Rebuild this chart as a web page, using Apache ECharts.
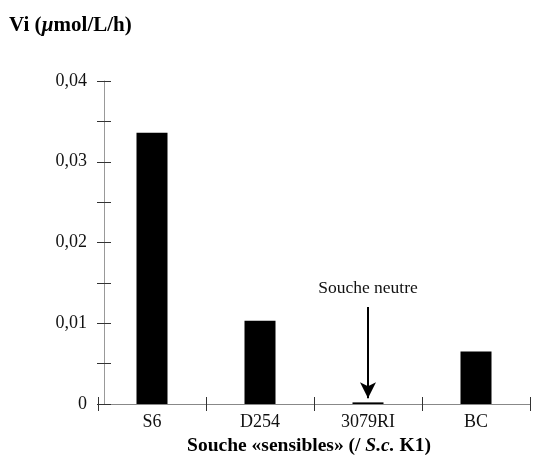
<!DOCTYPE html>
<html>
<head>
<meta charset="utf-8">
<script src="https://cdn.jsdelivr.net/npm/echarts@6/dist/echarts.min.js"></script>
<style>
  html, body { margin: 0; padding: 0; background: #fff; }
  #chart { width: 536px; height: 473px; }
</style>
</head>
<body>
<div id="chart"></div>
<script>
const categories = ['S6', 'D254', '3079RI', 'BC']
const rates = [0.0336, 0.0103, 0.0002, 0.0065]
const yTickValues = [0, 0.01, 0.02, 0.03, 0.04]
const yTickLabels = ['0', '0,01', '0,02', '0,03', '0,04']
const neutralStrain = '3079RI'
const arrowFrom = 0.012
const arrowTo = 0.0007
const neutralLabel = 'Souche neutre'

const serif = "'Liberation Serif', 'Times New Roman', serif"

function yLabel(value) {
  const i = yTickValues.findIndex((v) => Math.abs(v - value) < 1e-9)
  return i >= 0 ? yTickLabels[i] : ''
}

const chart = echarts.init(document.getElementById('chart'), null, { renderer: 'canvas' })

const tickStyle = { color: '#333', width: 1 }

chart.setOption({
  animation: false,
  backgroundColor: '#fff',
  textStyle: { fontFamily: serif },
  title: {
    left: 4,
    top: 10,
    text: '{b|Vi (}{i|\u00b5}{b|mol/L/h)}',
    textStyle: {
      rich: {
        b: { fontFamily: serif, fontWeight: 'bold', fontSize: 21, color: '#000' },
        i: { fontFamily: serif, fontWeight: 'bold', fontStyle: 'italic', fontSize: 21, color: '#000' },
      },
    },
  },
  grid: { left: 98, right: 6, top: 81, bottom: 69, containLabel: false },
  xAxis: [
    {
      type: 'category',
      data: categories,
      position: 'bottom',
      axisLine: { lineStyle: { color: '#888', width: 1 } },
      axisTick: {
        show: true,
        alignWithLabel: false,
        inside: false,
        length: 7,
        lineStyle: tickStyle,
      },
      axisLabel: { color: '#111', fontFamily: serif, fontSize: 18, margin: 9 },
      name: '{b|Souche \u00absensibles\u00bb (/ }{i|S.c.}{b| K1)}',
      nameLocation: 'middle',
      nameGap: 30,
      nameTextStyle: {
        padding: [0, 10, 0, 0],
        rich: {
          b: { fontFamily: serif, fontWeight: 'bold', fontSize: 19.5, color: '#000' },
          i: { fontFamily: serif, fontWeight: 'bold', fontStyle: 'italic', fontSize: 19.5, color: '#000' },
        },
      },
    },
    {
      type: 'category',
      data: categories,
      position: 'bottom',
      axisLine: { show: false },
      axisTick: {
        show: true,
        alignWithLabel: false,
        inside: true,
        length: 7,
        lineStyle: tickStyle,
      },
      axisLabel: { show: false },
    },
  ],
  yAxis: [
    {
      type: 'value',
      position: 'left',
      min: 0,
      max: 0.04,
      interval: 0.005,
      offset: -6,
      splitLine: { show: false },
      axisLine: { show: true, lineStyle: { color: '#999', width: 1 } },
      axisTick: { show: true, inside: false, length: 7, lineStyle: tickStyle },
      axisLabel: { color: '#111', fontFamily: serif, fontSize: 18, margin: 17, formatter: yLabel },
    },
    {
      type: 'value',
      position: 'left',
      min: 0,
      max: 0.04,
      interval: 0.005,
      offset: -6,
      splitLine: { show: false },
      axisLine: { show: false },
      axisTick: { show: true, inside: true, length: 7, lineStyle: tickStyle },
      axisLabel: { show: false },
    },
  ],
  series: [
    {
      type: 'bar',
      data: rates,
      barWidth: 31,
      itemStyle: { color: '#000' },
      markLine: {
        silent: true,
        symbol: ['none', 'arrow'],
        symbolSize: [12, 16],
        lineStyle: { color: '#000', width: 2, type: 'solid' },
        label: {
          show: true,
          position: 'start',
          distance: 10,
          formatter: neutralLabel,
          color: '#111',
          fontFamily: serif,
          fontSize: 17.5,
        },
        data: [[{ coord: [neutralStrain, arrowFrom] }, { coord: [neutralStrain, arrowTo] }]],
      },
    },
  ],
})
</script>
</body>
</html>
